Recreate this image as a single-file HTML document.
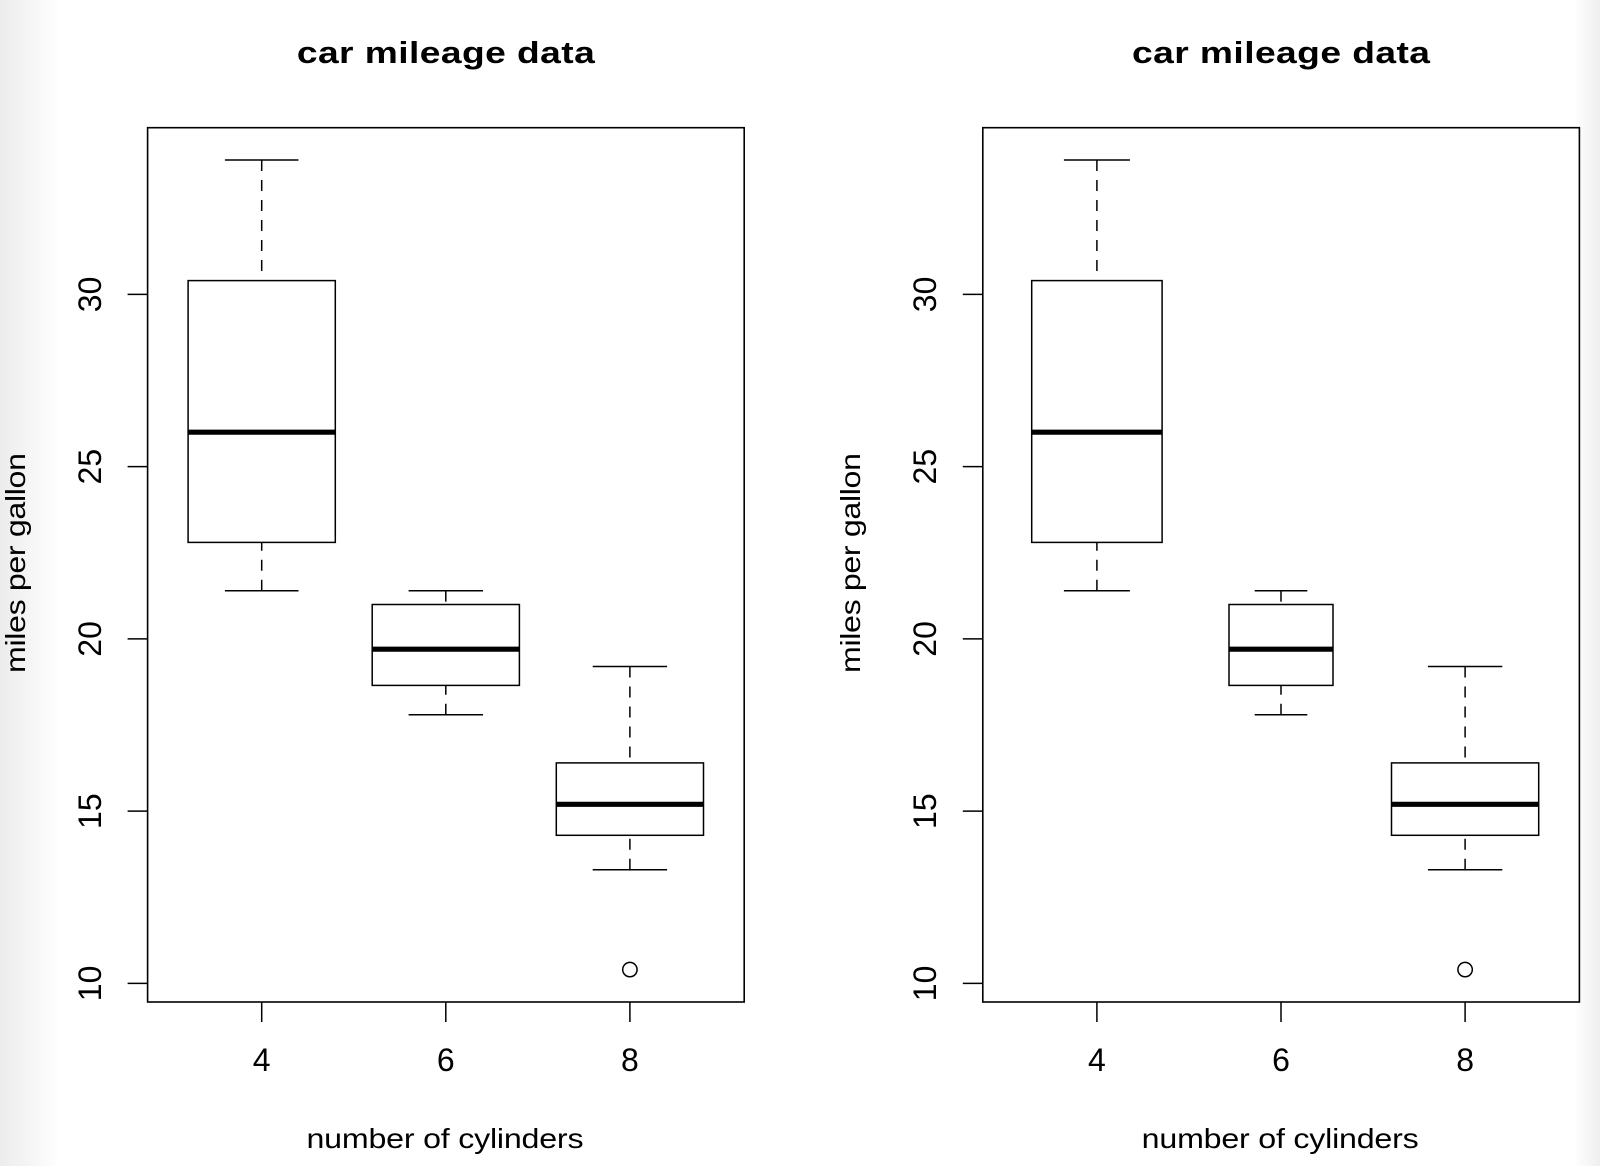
<!DOCTYPE html>
<html>
<head>
<meta charset="utf-8">
<style>
  html, body { margin:0; padding:0; }
  body { width:1600px; height:1166px; overflow:hidden; background:#fff; position:relative; }
  .lg { position:absolute; left:0; top:0; width:60px; height:1166px; background:linear-gradient(to right, #ececec, #ffffff); }
  .rg { position:absolute; left:1574px; top:0; width:26px; height:1166px; background:linear-gradient(to right, #ffffff, #efefef); }
  svg { position:absolute; left:0; top:0; }
  text { font-family:"Liberation Sans", Arial, Helvetica, sans-serif; fill:#000; }
</style>
</head>
<body>
<div class="lg"></div>
<div class="rg"></div>
<svg width="1600" height="1166" viewBox="0 0 1600 1166" xmlns="http://www.w3.org/2000/svg">
  <defs>
    <g id="panel">
      <!-- frame -->
      <rect x="147.6" y="127.7" width="596.6" height="874.3" fill="none" stroke="#000" stroke-width="1.6"/>
      <g stroke="#000" stroke-width="1.5">
        <line x1="127.6" y1="983.4" x2="147.6" y2="983.4"/>
        <line x1="127.6" y1="811.15" x2="147.6" y2="811.15"/>
        <line x1="127.6" y1="638.9" x2="147.6" y2="638.9"/>
        <line x1="127.6" y1="466.65" x2="147.6" y2="466.65"/>
        <line x1="127.6" y1="294.4" x2="147.6" y2="294.4"/>
        <line x1="261.7" y1="1002" x2="261.7" y2="1022"/>
        <line x1="445.8" y1="1002" x2="445.8" y2="1022"/>
        <line x1="629.9" y1="1002" x2="629.9" y2="1022"/>
      </g>
      <g font-size="32" text-anchor="middle">
        <text x="101" y="983.4" transform="rotate(-90 101 983.4)">10</text>
        <text x="101" y="811.15" transform="rotate(-90 101 811.15)">15</text>
        <text x="101" y="638.9" transform="rotate(-90 101 638.9)">20</text>
        <text x="101" y="466.65" transform="rotate(-90 101 466.65)">25</text>
        <text x="101" y="294.4" transform="rotate(-90 101 294.4)">30</text>
      </g>
      <g font-size="32" text-anchor="middle">
        <text x="261.7" y="1071">4</text>
        <text x="445.8" y="1071">6</text>
        <text x="629.9" y="1071">8</text>
      </g>
      <text transform="translate(445.8 63) scale(1.2 1)" x="0" y="0" font-size="31" font-weight="bold" text-anchor="middle" textLength="248.3" lengthAdjust="spacing">car mileage data</text>
      <text transform="translate(445 1148) scale(1.17 1)" x="0" y="0" font-size="27.5" text-anchor="middle" textLength="236.8" lengthAdjust="spacing">number of cylinders</text>
      <text transform="translate(25 563) rotate(-90) scale(1.17 1)" x="0" y="0" font-size="27.5" text-anchor="middle" textLength="188" lengthAdjust="spacing">miles per gallon</text>
    </g>
  </defs>

  <use href="#panel" x="0" y="0"/>
  <use href="#panel" x="835.2" y="0"/>

  <!-- ===== Panel 1 boxes ===== -->
  <!-- Box 4 cyl -->
  <g stroke="#000" stroke-width="1.5" fill="none">
    <line x1="261.7" y1="160.0" x2="261.7" y2="280.6" stroke-dasharray="11 9"/>
    <line x1="261.7" y1="590.7" x2="261.7" y2="542.4" stroke-dasharray="11 9"/>
    <line x1="224.9" y1="160.0" x2="298.5" y2="160.0"/>
    <line x1="224.9" y1="590.7" x2="298.5" y2="590.7"/>
    <rect x="188.1" y="280.6" width="147.2" height="261.8" fill="#fff"/>
  </g>
  <line x1="188.1" y1="432.2" x2="335.3" y2="432.2" stroke="#000" stroke-width="5.2"/>
  <!-- Box 6 cyl -->
  <g stroke="#000" stroke-width="1.5" fill="none">
    <line x1="445.8" y1="590.7" x2="445.8" y2="604.5" stroke-dasharray="11 9"/>
    <line x1="445.8" y1="714.7" x2="445.8" y2="685.4" stroke-dasharray="11 9"/>
    <line x1="408.6" y1="590.7" x2="483.0" y2="590.7"/>
    <line x1="408.6" y1="714.7" x2="483.0" y2="714.7"/>
    <rect x="372.2" y="604.5" width="147.2" height="80.9" fill="#fff"/>
  </g>
  <line x1="372.2" y1="649.2" x2="519.4" y2="649.2" stroke="#000" stroke-width="5.2"/>
  <!-- Box 8 cyl -->
  <g stroke="#000" stroke-width="1.5" fill="none">
    <line x1="629.9" y1="666.5" x2="629.9" y2="762.9" stroke-dasharray="11 9"/>
    <line x1="629.9" y1="869.7" x2="629.9" y2="835.3" stroke-dasharray="11 9"/>
    <line x1="592.7" y1="666.5" x2="667.1" y2="666.5"/>
    <line x1="592.7" y1="869.7" x2="667.1" y2="869.7"/>
    <rect x="556.3" y="762.9" width="147.2" height="72.4" fill="#fff"/>
    <circle cx="629.9" cy="969.6" r="7.2"/>
  </g>
  <line x1="556.3" y1="804.3" x2="703.5" y2="804.3" stroke="#000" stroke-width="5.2"/>

  <!-- ===== Panel 2 boxes (varwidth) ===== -->
  <!-- Box 4 cyl: center 1096.9, half 65.2, cap half 33 -->
  <g stroke="#000" stroke-width="1.5" fill="none">
    <line x1="1096.9" y1="160.0" x2="1096.9" y2="280.6" stroke-dasharray="11 9"/>
    <line x1="1096.9" y1="590.7" x2="1096.9" y2="542.4" stroke-dasharray="11 9"/>
    <line x1="1063.9" y1="160.0" x2="1129.9" y2="160.0"/>
    <line x1="1063.9" y1="590.7" x2="1129.9" y2="590.7"/>
    <rect x="1031.7" y="280.6" width="130.4" height="261.8" fill="#fff"/>
  </g>
  <line x1="1031.7" y1="432.2" x2="1162.1" y2="432.2" stroke="#000" stroke-width="5.2"/>
  <!-- Box 6 cyl: center 1281, half 52, cap half 26.3 -->
  <g stroke="#000" stroke-width="1.5" fill="none">
    <line x1="1281" y1="590.7" x2="1281" y2="604.5" stroke-dasharray="11 9"/>
    <line x1="1281" y1="714.7" x2="1281" y2="685.4" stroke-dasharray="11 9"/>
    <line x1="1254.7" y1="590.7" x2="1307.3" y2="590.7"/>
    <line x1="1254.7" y1="714.7" x2="1307.3" y2="714.7"/>
    <rect x="1229" y="604.5" width="104" height="80.9" fill="#fff"/>
  </g>
  <line x1="1229" y1="649.2" x2="1333" y2="649.2" stroke="#000" stroke-width="5.2"/>
  <!-- Box 8 cyl: center 1465.1 -->
  <g stroke="#000" stroke-width="1.5" fill="none">
    <line x1="1465.1" y1="666.5" x2="1465.1" y2="762.9" stroke-dasharray="11 9"/>
    <line x1="1465.1" y1="869.7" x2="1465.1" y2="835.3" stroke-dasharray="11 9"/>
    <line x1="1427.9" y1="666.5" x2="1502.3" y2="666.5"/>
    <line x1="1427.9" y1="869.7" x2="1502.3" y2="869.7"/>
    <rect x="1391.5" y="762.9" width="147.2" height="72.4" fill="#fff"/>
    <circle cx="1465.1" cy="969.6" r="7.2"/>
  </g>
  <line x1="1391.5" y1="804.3" x2="1538.7" y2="804.3" stroke="#000" stroke-width="5.2"/>
</svg>
</body>
</html>
